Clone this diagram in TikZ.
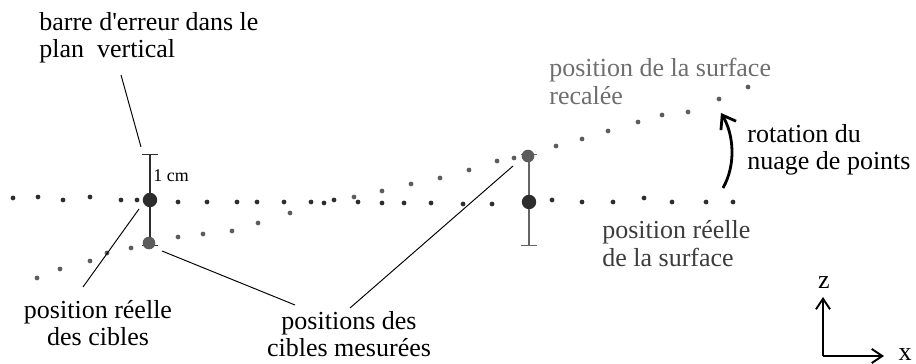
\documentclass[tikz,border=0pt]{standalone}
\usepackage{fontspec}
\setmainfont{Liberation Serif}
\usepackage{tikz}
\usetikzlibrary{arrows.meta}
\definecolor{ptDark}{RGB}{45,45,45}
\definecolor{ptGray}{RGB}{92,92,92}
\definecolor{barGray}{RGB}{100,100,100}
\definecolor{lblGray}{RGB}{110,110,110}
\definecolor{lblDark}{RGB}{60,60,60}

\begin{document}
\begin{tikzpicture}[x=0.02cm, y=-0.02cm,
  lbl/.style={font=\fontsize{14.8}{15.6}\selectfont, inner sep=0pt},
  leader/.style={black, line width=0.55pt},
  errbar/.style={line width=0.8pt, {Bar[width=9pt]}-{Bar[width=9pt]}},
  bigarrow/.style={line width=1.1pt, -{Straight Barb[length=6pt,width=8pt]}}]
\useasboundingbox (0,0) rectangle (916,364);

\coordinate (tgtReelL) at (150,200);
\coordinate (tgtMesL) at (149,243);
\coordinate (tgtReelR) at (529,202);
\coordinate (tgtMesR) at (528,156);

\draw[errbar, ptDark] (150,154) -- (150,246);
\draw[errbar, barGray] (529,154) -- (529,246);
\node[lbl, font=\fontsize{10.2}{11}\selectfont, anchor=west] (unCm) at (153,176) {1 cm};

\foreach \x/\y in {13/198,38/197,63/200,90/197,121/200,137/200,178/202,207/202,237/202,257/202,284/202,311/202,324/203,334/200,358/202,382/203,404/203,431/203,463/204,492/204,552/200,582/202,613/202,644/198,672/202,706/202,733/202}
{
    \fill[ptDark] (\x,\y) circle (1.35pt);
}
\foreach \x/\y in {37/278,60/269,90/261,107/253,131/248,178/237,203/234,232/231,258/223,290/213,354/197,382/191,411/184,440/178,469/170,497/161,514/158,556/146,582/139,608/131,638/122,662/115,688/112,719/99,748/87}
{
    \fill[ptGray] (\x,\y) circle (1.35pt);
}
\fill[ptDark] (tgtReelL) circle (4.1pt);
\fill[ptDark] (tgtReelR) circle (4.1pt);
\fill[ptGray] (tgtMesL) circle (3.6pt);
\fill[ptGray] (tgtMesR) circle (3.6pt);

\node[lbl, align=left, anchor=west] (lblBarre) at (39,37.5) {barre d\textquotesingle erreur dans le\\plan~ vertical};
\node[lbl, align=center] (lblCibles) at (98,323) {position réelle\\des cibles};
\node[lbl, align=center] (lblMesures) at (349,334) {positions des\\cibles mesurées};
\node[lbl, align=left, anchor=west, text=lblDark] (lblSurface) at (602,243.5) {position réelle\\de la surface};
\node[lbl, align=left, anchor=west, text=lblGray] (lblRecalee) at (549,81.5) {position de la surface\\recalée};
\node[lbl, align=left, anchor=west] (lblRotation) at (747,150) {rotation du\\nuage de points};

\coordinate (barreFoot) at (121,75);
\coordinate (barreTip) at (141,147);
\coordinate (ciblesFoot) at (83,287);
\coordinate (ciblesTip) at (139,209);
\coordinate (mesuresFootL) at (295,305);
\coordinate (mesuresTipL) at (162,251);
\coordinate (mesuresFootR) at (350,308);
\coordinate (mesuresTipR) at (513,166);
\draw[leader] (barreFoot) -- (barreTip);
\draw[leader] (ciblesFoot) -- (ciblesTip);
\draw[leader] (mesuresFootL) -- (mesuresTipL);
\draw[leader] (mesuresFootR) -- (mesuresTipR);

\coordinate (rotBas) at (723,188);
\coordinate (rotHaut) at (721,113);
\draw[bigarrow, line width=1.6pt, -{Straight Barb[length=7pt,width=10pt]}] (rotBas) .. controls (736,165) and (734,135) .. (rotHaut);

\coordinate (origine) at (823,356);
\coordinate (axeZ) at (823,297);
\coordinate (axeX) at (884,356);
\draw[bigarrow] (origine) -- (axeZ);
\draw[bigarrow] (origine) -- (axeX);
\node[lbl] (lblZ) at (824,283) {z};
\node[lbl] (lblX) at (905,355) {x};
\end{tikzpicture}
\end{document}
